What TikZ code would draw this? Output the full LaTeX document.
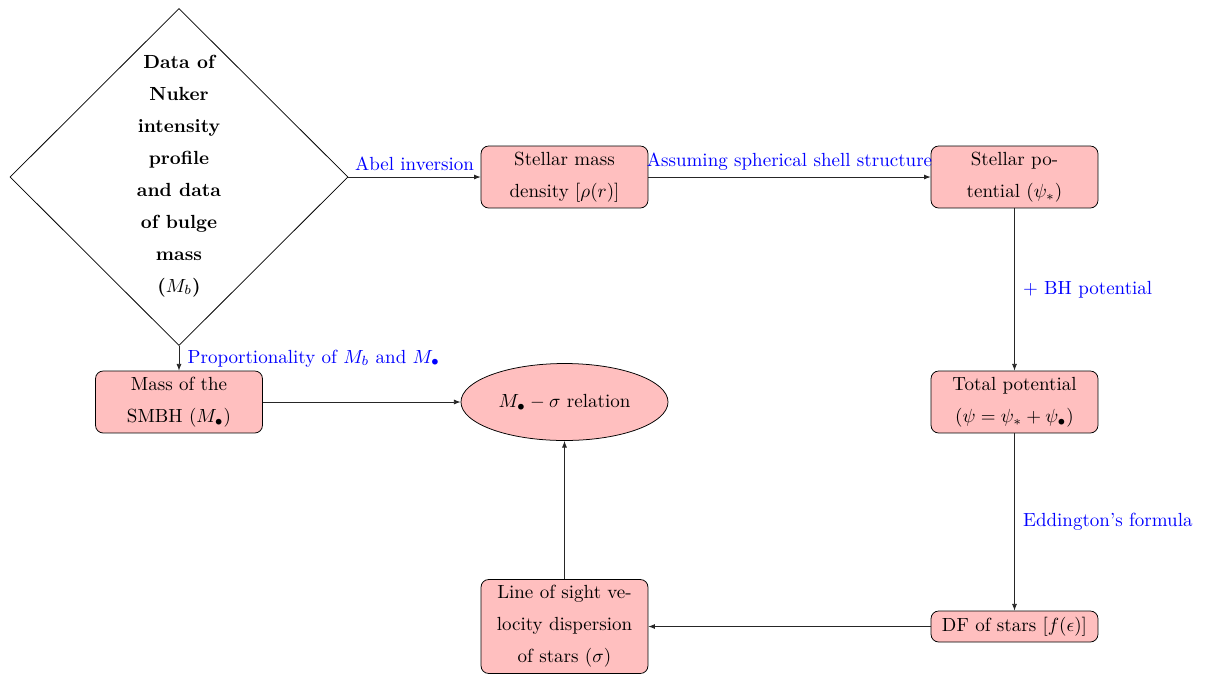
\documentclass[tikz,border=0pt]{standalone}
\usetikzlibrary{shapes.geometric,arrows.meta}
\colorlet{boxfill}{red!25}
\begin{document}
\begin{tikzpicture}[x=0.526pt,y=-0.526pt,
  box/.style={draw, fill=boxfill, rounded corners=4pt, minimum width=87.8pt, align=center, inner sep=2pt, font=\fontsize{10}{16.8}\selectfont},
  conn/.style={-{Latex[length=3.5pt,width=2.6pt]}, draw=black!85},
  lab/.style={text=blue, font=\fontsize{10}{12}\selectfont}]
\useasboundingbox (0,0) rectangle (1213,673);
\node[draw, diamond, aspect=1, minimum width=177.8pt, minimum height=177.3pt, inner sep=0pt] (data) at (179,177) {};
\node[align=center, font=\bfseries\fontsize{10}{16.8}\selectfont] (datatext) at (179,176) {Data of\\Nuker\\intensity\\profile\\and data\\of bulge\\mass\\($M_b$)};
\node[box, minimum height=32.6pt] (smd) at (564.5,177) {Stellar mass\\density [$\rho(r)$]};
\node[box, minimum height=32.6pt] (spot) at (1014.5,177) {Stellar po-\\tential ($\psi_*$)};
\node[box, minimum height=32.6pt] (tpot) at (1014.5,402) {Total potential\\($\psi=\psi_*+\psi_\bullet$)};
\node[box, minimum height=16.3pt] (df) at (1014.5,626.5) {DF of stars [$f(\epsilon)$]};
\node[box, minimum height=49.4pt] (los) at (564.5,626.5) {Line of sight ve-\\locity dispersion\\of stars ($\sigma$)};
\node[box, minimum height=32.6pt] (smbh) at (179,402) {Mass of the\\SMBH ($M_\bullet$)};
\node[draw, fill=boxfill, ellipse, minimum width=108.9pt, minimum height=40.5pt, inner sep=0pt] (msig) at (564.5,402) {$M_\bullet-\sigma$ relation};
\draw[conn] (data.east) -- node[lab, above] {Abel inversion} (smd.west);
\draw[conn] (smd) -- node[lab, above] {Assuming spherical shell structure} (spot);
\draw[conn] (spot) -- node[lab, right, xshift=1pt] {$+$ BH potential} (tpot);
\draw[conn] (tpot) -- node[lab, right, xshift=1pt] {Eddington's formula} (df);
\draw[conn] (df) -- (los);
\draw[conn] (los) -- (msig);
\draw[conn] (smbh) -- (msig);
\draw[conn] (data.south) -- node[lab, right, xshift=1pt] {Proportionality of $M_b$ and $M_\bullet$} (smbh);
\end{tikzpicture}
\end{document}
